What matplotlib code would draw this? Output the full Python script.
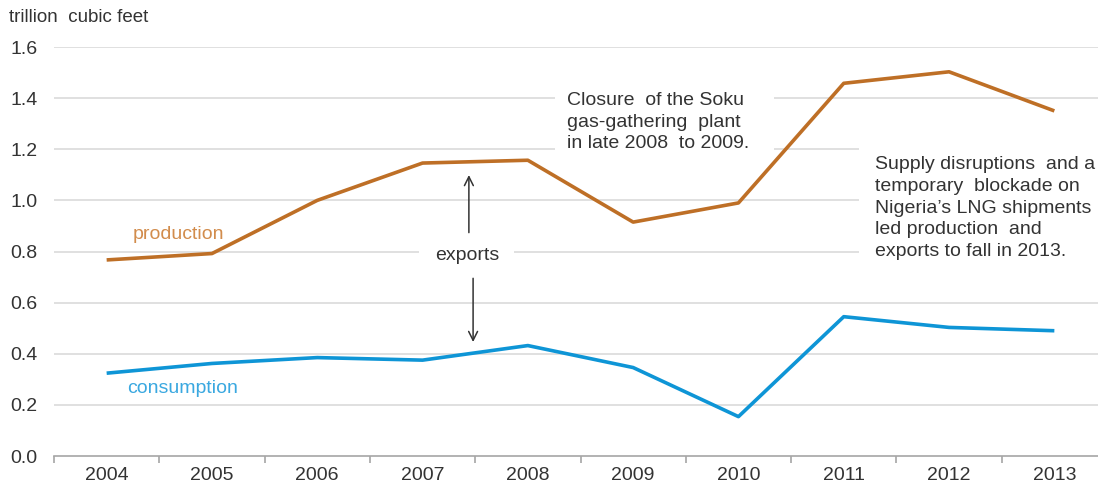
import matplotlib
matplotlib.use("Agg")
import matplotlib.pyplot as plt
from matplotlib.patches import Rectangle
import numpy as np

plt.rcParams['font.family'] = ['Liberation Sans', 'DejaVu Sans']

years = ['2004', '2005', '2006', '2007', '2008', '2009', '2010', '2011', '2012', '2013']
production = [0.767, 0.792, 1.00, 1.146, 1.157, 0.915, 0.99, 1.458, 1.503, 1.35]
consumption = [0.324, 0.362, 0.385, 0.375, 0.432, 0.346, 0.154, 0.545, 0.503, 0.49]
y_ticks = [0.0, 0.2, 0.4, 0.6, 0.8, 1.0, 1.2, 1.4, 1.6]

prod_color = '#BE6F26'
prod_label_color = '#D28C4C'
cons_color = '#0E95D6'
cons_label_color = '#3AA8E0'
text_color = '#333333'
grid_color = '#DADADA'

fig = plt.figure(figsize=(10.98, 4.86), dpi=100)
ax = fig.add_axes([54/1098, 30/486, (1107-54)/1098, (456-47)/486])

x = np.arange(len(years))
ax.plot(x, production, color=prod_color, lw=2.6, solid_capstyle='butt', zorder=3)
ax.plot(x, consumption, color=cons_color, lw=2.6, solid_capstyle='butt', zorder=3)

ax.set_xlim(-0.5, len(years) - 0.5)
ax.set_ylim(0, 1.6)
ax.set_yticks(y_ticks)
ax.set_yticklabels([f'{v:.1f}' for v in y_ticks], color=text_color, fontsize=14)
for v in y_ticks[1:]:
    ax.axhline(v, color=grid_color, lw=1.2, zorder=1)

ax.set_xticks(x)
ax.set_xticklabels(years, color=text_color, fontsize=14)
ax.set_xticks(np.arange(-0.5, len(years) + 0.5, 1), minor=True)
ax.tick_params(axis='x', which='major', length=0, pad=8)
ax.tick_params(axis='x', which='minor', length=5, color='#A6A6A6', width=1.2)
ax.tick_params(axis='y', length=0, pad=12)

for s in ['top', 'right', 'left']:
    ax.spines[s].set_visible(False)
ax.spines['bottom'].set_color('#A6A6A6')
ax.spines['bottom'].set_linewidth(1.2)

fig.text(9/1098, 1 - 18/486, 'trillion  cubic feet', fontsize=13.5, color=text_color,
         ha='left', va='center')

ax.text(0.68, 0.867, 'production', color=prod_label_color, fontsize=14, ha='center', va='center')
ax.text(0.72, 0.263, 'consumption', color=cons_label_color, fontsize=14, ha='center', va='center')

ax.text(3.42, 0.785, 'exports', color=text_color, fontsize=14, ha='center', va='center',
        bbox=dict(boxstyle='square,pad=0.8', fc='white', ec='none'), zorder=4)
ax.annotate('', xy=(3.44, 1.11), xytext=(3.44, 0.863),
            arrowprops=dict(arrowstyle='->', color='#333333', lw=1.1, mutation_scale=16), zorder=5)
ax.annotate('', xy=(3.48, 0.435), xytext=(3.48, 0.706),
            arrowprops=dict(arrowstyle='->', color='#333333', lw=1.1, mutation_scale=16), zorder=5)

# white panel behind the first note (interrupts gridlines as in the source)
ax.add_patch(Rectangle((4.26, 1.149), 2.08, 0.32, fc='white', ec='none', zorder=2))
ax.text(4.37, 1.306, 'Closure  of the Soku\ngas-gathering  plant\nin late 2008  to 2009.',
        color=text_color, fontsize=14, ha='left', va='center', linespacing=1.37, zorder=2.5)

ax.text(7.30, 0.97, 'Supply disruptions  and a\ntemporary  blockade on\nNigeria\u2019s LNG shipments\nled production  and\nexports to fall in 2013.',
        color=text_color, fontsize=14, ha='left', va='center', linespacing=1.35,
        bbox=dict(boxstyle='square,pad=0.82', fc='white', ec='none'), zorder=2)

fig.savefig('out.png', dpi=100)
